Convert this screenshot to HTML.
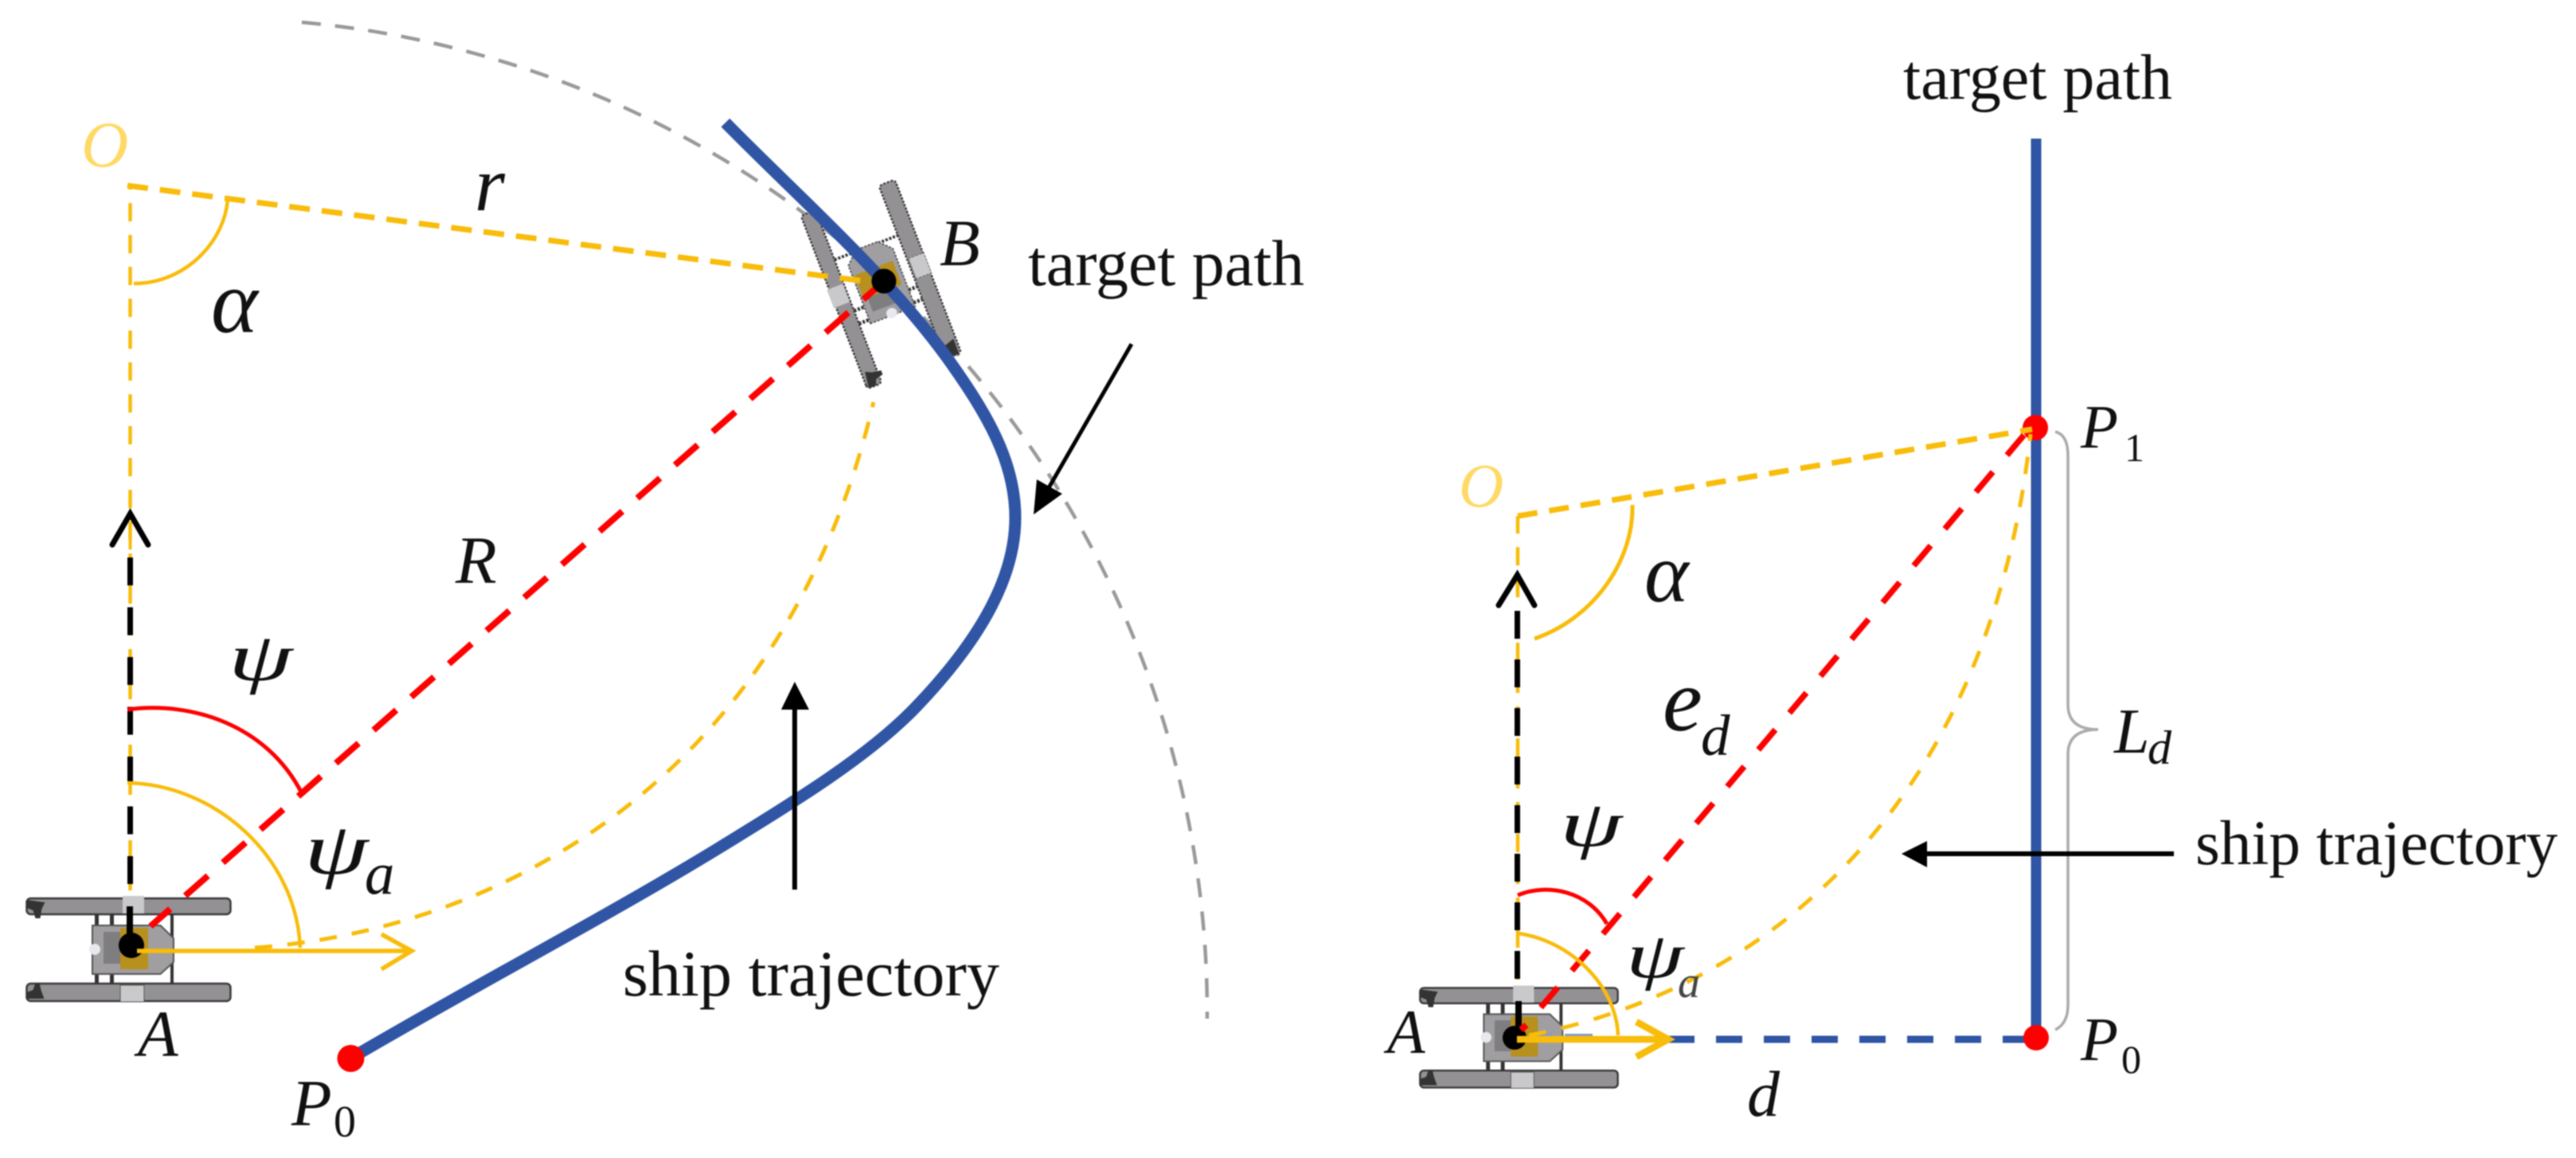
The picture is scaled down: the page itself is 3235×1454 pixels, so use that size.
<!DOCTYPE html>
<html><head><meta charset="utf-8"><style>
html,body{margin:0;padding:0;background:#fff;width:3235px;height:1454px;overflow:hidden}
svg{display:block;filter:blur(.7px)}
text{font-family:"Liberation Serif",serif;fill:#111}
.i{font-style:italic}
</style></head><body>
<svg width="3235" height="1454" viewBox="0 0 3235 1454" xmlns="http://www.w3.org/2000/svg">
<defs>
<g id="ship">
  <rect x="-128" y="-64" width="256" height="20" rx="5" fill="#949195" stroke="#3a3a3a" stroke-width="2.500"/>
  <rect x="-128" y="43" width="256" height="22" rx="5" fill="#949195" stroke="#3a3a3a" stroke-width="2.500"/>
  <path d="M-128,-62 l0,10 l8,3 l3,10 l6,0 l2,-12 l4,-8 z" fill="#333"/>
  <path d="M-128,62 l0,-8 l8,-3 l3,-9 l5,0 l2,9 l4,11 z" fill="#333"/>
  <rect x="-7.500" y="-67" width="27" height="22" fill="#c9c8ca"/>
  <rect x="-10.500" y="45" width="30" height="21" fill="#c9c8ca" stroke="#555" stroke-width="1"/>
  <path d="M-40,-44 V-30 M-21,-44 V-30 M-40,31 V43 M-21,31 V43" stroke="#333" stroke-width="5" fill="none"/>
  <path d="M54.500,-44 V43" stroke="#333" stroke-width="4" fill="none"/>
  <path d="M-45.500,-30 H40 L56.500,-14 V16 L40,31 H-45.500 Z" fill="#a09ea1" stroke="#555" stroke-width="2"/>
  <rect x="-31.500" y="-22" width="21" height="40" fill="#7e7d80"/>
  <rect x="-10.500" y="-27" width="35" height="52" fill="#b8901e"/>
  <circle cx="-42.500" cy="0" r="7" fill="#e8e8ee"/>
</g>
</defs>
<rect width="3235" height="1454" fill="#fff"/>

<!-- LEFT PANEL -->
<path d="M379,28 A1249,1249 0 0 1 1516,1279" fill="none" stroke="#9a9a9a" stroke-width="4.500" stroke-dasharray="24 18"/>
<use href="#ship" transform="translate(161.500,1192)"/>
<use href="#ship" transform="translate(1106,357) rotate(-111) scale(.91,.98)" stroke-dasharray="3 2"/>

<path d="M163.500,1118 V233" fill="none" stroke="#f8bc0a" stroke-width="4.500" stroke-dasharray="23 17"/>
<path d="M160,233 L1108,356" fill="none" stroke="#f8bc0a" stroke-width="7" stroke-dasharray="26 15"/>
<path d="M286,248 C284,300 235,356 168,356" fill="none" stroke="#f8bc0a" stroke-width="4.500"/>
<path d="M320,1190 C650,1165 990,960 1097,505" fill="none" stroke="#f8bc0a" stroke-width="5" stroke-dasharray="22 19"/>
<path d="M163.500,700 V1110" fill="none" stroke="#000" stroke-width="7" stroke-dasharray="35 27.500"/>
<path d="M141,684 L163.500,645 L186,684" fill="none" stroke="#000" stroke-width="7" stroke-linecap="round" stroke-linejoin="miter"/>
<path d="M163.500,660 V690" stroke="#f8bc0a" stroke-width="4" fill="none"/>
<path d="M189,1163 L1100,362" fill="none" stroke="#ff0000" stroke-width="8" stroke-dasharray="38 25" stroke-dashoffset="5"/>
<path d="M160,891 C240,880 335,910 379,996" fill="none" stroke="#ff0000" stroke-width="5"/>
<path d="M160,983 C270,985 372,1075 377,1190" fill="none" stroke="#f8bc0a" stroke-width="4.500"/>
<path d="M911,154 C1000,245 1110,340 1190,450 C1240,520 1275,580 1275,650 C1275,730 1225,810 1149,889 C1090,950 1000,1005 904,1064 C760,1152 600,1235 440,1329" fill="none" stroke="#2f55a4" stroke-width="15"/>
<circle cx="440.500" cy="1329" r="17" fill="#ff0000"/>
<circle cx="1110" cy="353" r="15.500" fill="#000"/>
<path d="M163,1138 V1180" stroke="#000" stroke-width="8" fill="none"/>
<circle cx="165" cy="1187" r="16" fill="#000"/>
<path d="M172,1194 H517 M479,1173 L517,1194 L479,1217" fill="none" stroke="#f8bc0a" stroke-width="5.500"/>
<path d="M998,1117 V885" stroke="#000" stroke-width="6" fill="none"/>
<path d="M998,856 L1016,891 H981 Z" fill="#000"/>
<path d="M1421,432 L1315,616" stroke="#000" stroke-width="5" fill="none"/>
<path d="M1298,646 L1302,602 L1334,620 Z" fill="#000"/>

<text class="i" x="102" y="209" font-size="82" style="fill:#ffd966">O</text>
<text class="i" x="596" y="264" font-size="98">r</text>
<text class="i" x="265" y="417" font-size="112">α</text>
<text class="i" x="1180" y="333" font-size="83">B</text>
<text class="i" x="572" y="732" font-size="85">R</text>
<text class="i" font-size="108" transform="translate(287,854) scale(1.2,.795)">ψ</text>
<text class="i" font-size="108" transform="translate(382,1097) scale(1.2,.855)">ψ</text>
<text class="i" x="458" y="1122" font-size="75">a</text>
<text class="i" x="173" y="1326" font-size="83">A</text>
<text class="i" x="366" y="1413" font-size="83">P</text>
<text x="419" y="1427" font-size="56">0</text>
<text x="782" y="1250" font-size="82" textLength="473" lengthAdjust="spacingAndGlyphs">ship trajectory</text>
<text x="1291" y="358" font-size="82" textLength="347" lengthAdjust="spacingAndGlyphs">target path</text>

<!-- RIGHT PANEL -->
<use href="#ship" transform="translate(1907.500,1302.500) scale(.97)"/>
<path d="M2095,1305 H2545" fill="none" stroke="#2f55a4" stroke-width="9" stroke-dasharray="33 27"/>
<path d="M1965,1300 H2000 M1930,1300 H1950" fill="none" stroke="#7f9bd0" stroke-width="4"/>
<path d="M2557,174 V1303" fill="none" stroke="#2f55a4" stroke-width="13"/>
<path d="M2581,542 Q2597,546 2597,572 L2597,885 Q2597,916 2635,916 Q2597,916 2597,947 L2597,1262 Q2597,1285 2581,1293" fill="none" stroke="#ababab" stroke-width="3.500"/>
<circle cx="2556" cy="537" r="16" fill="#ff0000"/>
<circle cx="2557" cy="1303" r="16" fill="#ff0000"/>

<path d="M1906,1230 V648" fill="none" stroke="#f8bc0a" stroke-width="4.500" stroke-dasharray="23 17"/>
<path d="M1906,648 L2552,539" fill="none" stroke="#f8bc0a" stroke-width="7" stroke-dasharray="25 15"/>
<path d="M2050,634 C2052,700 2005,775 1927,802" fill="none" stroke="#f8bc0a" stroke-width="5"/>
<path d="M1920,1300 C2230,1240 2500,1000 2550,545" fill="none" stroke="#f8bc0a" stroke-width="5" stroke-dasharray="22 20"/>
<path d="M1905.500,767 V1229" fill="none" stroke="#000" stroke-width="7" stroke-dasharray="35 26"/>
<path d="M1905.500,727 V745" stroke="#f8bc0a" stroke-width="4" fill="none"/>
<path d="M1882,760 L1905.500,722 L1927,760" fill="none" stroke="#000" stroke-width="7" stroke-linecap="round"/>
<path d="M1935,1265 L2542,546" fill="none" stroke="#ff0000" stroke-width="7.500" stroke-dasharray="33 27.500"/>
<path d="M1906,1124 C1945,1108 1995,1120 2018,1160" fill="none" stroke="#ff0000" stroke-width="5"/>
<path d="M1907,1172 C1975,1182 2030,1240 2032,1300" fill="none" stroke="#f8bc0a" stroke-width="4.500"/>
<path d="M1907,1257 V1293" stroke="#000" stroke-width="8" fill="none"/>
<circle cx="1902" cy="1303" r="15" fill="#000"/>
<path d="M1910,1293 L1917,1287" stroke="#ff0000" stroke-width="8" fill="none"/>
<path d="M1905,1305 H2090 M2055,1283 L2095,1305 L2055,1327" fill="none" stroke="#f8bc0a" stroke-width="8.500"/>
<path d="M2730,1072 H2415" stroke="#000" stroke-width="6" fill="none"/>
<path d="M2388,1072 L2420,1056 V1089 Z" fill="#000"/>

<text x="2390" y="124" font-size="80" textLength="338" lengthAdjust="spacingAndGlyphs">target path</text>
<text class="i" x="2613" y="562" font-size="77">P</text>
<text x="2668" y="579" font-size="50">1</text>
<text class="i" x="1832" y="636" font-size="78" style="fill:#ffd966">O</text>
<text class="i" x="2065" y="755" font-size="106">α</text>
<text class="i" x="2655" y="945" font-size="80">L</text>
<text class="i" x="2697" y="959" font-size="60">d</text>
<text class="i" x="2088" y="917" font-size="112">e</text>
<text class="i" x="2136" y="948" font-size="73">d</text>
<text class="i" font-size="108" transform="translate(1959,1062) scale(1.167,.76)">ψ</text>
<text class="i" font-size="108" transform="translate(2042,1227) scale(1.083,.747)">ψ</text>
<text class="i" x="2107" y="1252" font-size="56" style="fill:#444">a</text>
<text class="i" x="1742" y="1322" font-size="78">A</text>
<text class="i" x="2613" y="1331" font-size="77">P</text>
<text x="2664" y="1347" font-size="50">0</text>
<text class="i" x="2194" y="1401" font-size="82">d</text>
<text x="2757" y="1085" font-size="79" textLength="455" lengthAdjust="spacingAndGlyphs">ship trajectory</text>
</svg>
</body></html>
